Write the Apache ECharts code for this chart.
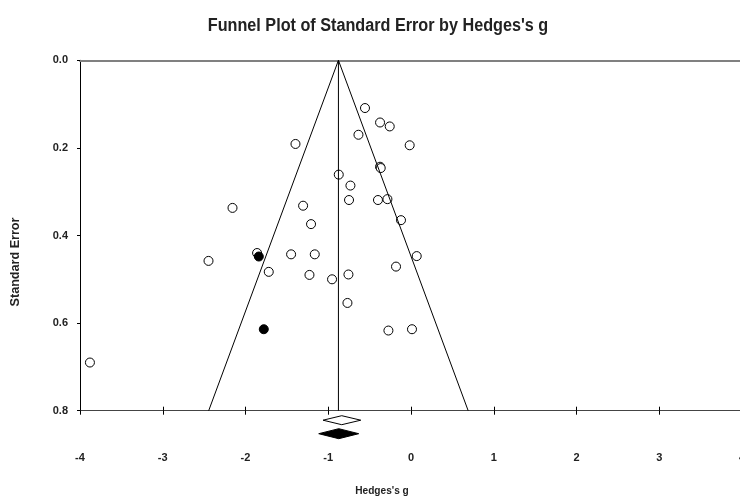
<!DOCTYPE html>
<html>
<head>
<meta charset="utf-8">
<script src="https://cdn.jsdelivr.net/npm/echarts@6/dist/echarts.min.js"></script>
<style>html,body{margin:0;padding:0;background:#fff}#c{width:740px;height:503px}</style>
</head>
<body>
<div id="c"></div>
<script>
// Observed studies (Hedges's g, standard error)
var observedStudies = [
  [-0.556,0.109],[-0.374,0.142],[-0.257,0.151],[-0.635,0.170],[-1.396,0.191],
  [-0.016,0.194],[-0.374,0.243],[-0.366,0.246],[-0.873,0.261],[-0.732,0.286],
  [-2.157,0.337],[-1.304,0.332],[-0.749,0.319],[-0.399,0.319],[-0.285,0.317],
  [-0.121,0.365],[-1.208,0.374],[-1.860,0.440],[-1.449,0.443],[-1.163,0.443],
  [0.069,0.447],[-2.447,0.458],[-0.181,0.471],[-1.719,0.483],[-1.227,0.490],
  [-0.954,0.500],[-0.756,0.489],[-0.768,0.554],[-0.273,0.617],[0.012,0.614],
  [-3.880,0.690]
];
// Imputed studies (trim and fill)
var imputedStudies = [[-1.839,0.448],[-1.779,0.614]];
// Funnel lines
var funnelLeft = [[-0.877,0],[-2.445,0.8]];
var funnelRight = [[-0.877,0],[0.691,0.8]];
var centerLine = [[-0.877,0],[-0.877,0.8]];
// Summary diamonds [lower, estimate, upper]
var observedSummary = [[-1.063,-0.837,-0.607]];
var adjustedSummary = [[-1.115,-0.873,-0.632]];
var xTicks = [-4,-3,-2,-1,0,1,2,3,4];
var yTicks = [0,0.2,0.4,0.6,0.8];

var chart = echarts.init(document.getElementById('c'), null, {renderer:'canvas'});
var lab = {color:'#222', fontSize:11, fontWeight:'bold', fontFamily:'Liberation Sans, Arial, sans-serif'};
function diamond(fill, yOff, h) {
  return function(params, api) {
    var lo = api.coord([api.value(0), 0.8]);
    var es = api.coord([api.value(1), 0.8]);
    var hi = api.coord([api.value(2), 0.8]);
    var yc = lo[1] + yOff;
    return {
      type:'polygon',
      shape:{points:[[lo[0],yc],[es[0],yc-h],[hi[0],yc],[es[0],yc+h]]},
      style:{fill:fill, stroke:'#000', lineWidth:1}
    };
  };
}
var lineStyle = {color:'#000', width:1};
chart.setOption({
  animation:false,
  graphic:[
    {type:'text', x:378, y:26, scaleX:0.9, style:{text:"Funnel Plot of Standard Error by Hedges's g", font:'bold 18px "Liberation Sans", Arial, sans-serif', fill:'#222', align:'center', verticalAlign:'middle'}},
    {type:'text', x:382, y:491, scaleX:0.92, style:{text:"Hedges's g", font:'bold 11px "Liberation Sans", Arial, sans-serif', fill:'#222', align:'center', verticalAlign:'middle'}},
    {type:'text', x:16, y:262, rotation:Math.PI/2, scaleX:1.05, style:{text:'Standard Error', font:'bold 12px "Liberation Sans", Arial, sans-serif', fill:'#222', align:'center', verticalAlign:'middle'}}
  ],
  grid:{left:80, top:60.3, width:662, height:350.4, show:false, containLabel:false, outerBoundsMode:'none'},
  xAxis:[{
    type:'value', min:-4, max:4, interval:1, position:'bottom',
    axisLine:{onZero:false, lineStyle:{color:'#444', width:1}},
    axisTick:{show:true, length:4, inside:false, lineStyle:{color:'#000'}},
    axisLabel:Object.assign({margin:42, formatter:function(v){return String(v);}}, lab),
    splitLine:{show:false}
  },{
    type:'value', min:-4, max:4, interval:1, position:'bottom', gridIndex:0,
    axisLine:{show:false, onZero:false},
    axisTick:{show:true, length:4, inside:true, lineStyle:{color:'#000'}},
    axisLabel:{show:false}, splitLine:{show:false}
  },{
    type:'value', min:-4, max:4, position:'top', gridIndex:0,
    axisLine:{show:true, onZero:false, lineStyle:{color:'#808080', width:2}},
    axisTick:{show:false}, axisLabel:{show:false}, splitLine:{show:false}
  }],
  yAxis:{
    type:'value', inverse:true, min:0, max:0.8, interval:0.2,
    axisLine:{show:true, onZero:false, lineStyle:{color:'#000', width:1}},
    axisTick:{show:true, length:3, lineStyle:{color:'#000'}},
    axisLabel:Object.assign({margin:12, formatter:function(v){return v.toFixed(1);}}, lab),
    splitLine:{show:false}
  },
  series:[
    {type:'line', data:funnelLeft, symbol:'none', lineStyle:lineStyle, silent:true},
    {type:'line', data:funnelRight, symbol:'none', lineStyle:lineStyle, silent:true},
    {type:'line', data:centerLine, symbol:'none', lineStyle:lineStyle, silent:true},
    {type:'scatter', data:observedStudies, symbol:'circle', symbolSize:9,
     itemStyle:{color:'#fff', borderColor:'#000', borderWidth:1, opacity:1}},
    {type:'scatter', data:imputedStudies, symbol:'circle', symbolSize:9,
     itemStyle:{color:'#000', borderColor:'#000', borderWidth:1, opacity:1}},
    {type:'custom', data:observedSummary, renderItem:diamond('#fff', 9.5, 4.5), clip:false},
    {type:'custom', data:adjustedSummary, renderItem:diamond('#000', 23, 5), clip:false}
  ]
});
</script>
</body>
</html>
